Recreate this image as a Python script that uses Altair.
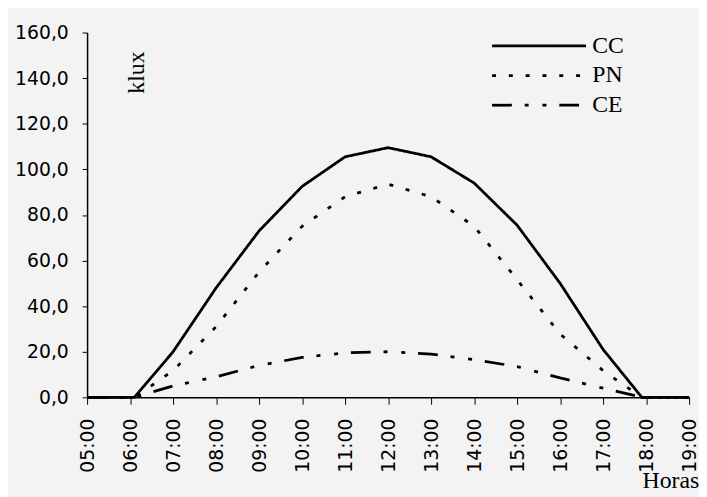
import altair as alt
import pandas as pd

hours = [5, 6, 6.1, 7, 8, 9, 10, 11, 12, 13, 14, 15, 16, 17, 17.9, 18, 19]
cc = [0, 0, 0, 20, 48, 73, 92.5, 105.5, 109.5, 105.5, 94, 75.5, 50, 21, 0, 0, 0]
pn = [0, 0, 0, 11.7, 31, 55, 75, 88, 93.5, 88, 75, 51.6, 27.8, 11.7, 0, 0, 0]
ce = [0, 0, 0, 5, 9, 14, 17.5, 19.5, 20, 19, 16.5, 13.5, 8.5, 4, 0, 0, 0]
series = ["CC", "PN", "CE"]
x_ticks = list(range(5, 20))
y_ticks = list(range(0, 161, 20))

rows = []
for name, vals in zip(series, [cc, pn, ce]):
    for h, v in zip(hours, vals):
        rows.append({"h": h, "v": v, "s": name})
df = pd.DataFrame(rows)

chart = alt.Chart(df).mark_line(color="black", strokeWidth=2.8).encode(
    x=alt.X("h:Q", scale=alt.Scale(domain=[5, 19], nice=False, zero=False),
            axis=alt.Axis(values=x_ticks,
                          labelExpr="(datum.value < 10 ? '0' : '') + datum.value + ':00'",
                          labelAngle=270, labelFont="DejaVu Sans", labelFontSize=19,
                          labelColor="black", labelPadding=14, tickSize=7,
                          tickColor="black", domainColor="black", domainWidth=1.5,
                          grid=False, title="Horas", titleFont="Liberation Serif",
                          titleFontSize=24, titleFontWeight="normal", titleColor="black",
                          titleX=590, titleY=91, titleAlign="center",
                          titleBaseline="alphabetic", labelFlush=False, labelOverlap=False)),
    y=alt.Y("v:Q", scale=alt.Scale(domain=[0, 160], nice=False),
            axis=alt.Axis(values=y_ticks,
                          labelExpr="replace(format(datum.value, '.1f'), '.', ',')",
                          labelFont="DejaVu Sans", labelFontSize=19, labelColor="black",
                          labelPadding=14, tickSize=5, tickColor="black",
                          domainColor="black", domainWidth=1.5, grid=False,
                          title="klux", titleFont="Liberation Serif", titleFontSize=24,
                          titleFontWeight="normal", titleColor="black", titleAngle=270,
                          titleX=50, titleY=40, titleAlign="center",
                          titleBaseline="middle", labelFlush=False)),
    strokeDash=alt.StrokeDash("s:N",
                              scale=alt.Scale(domain=series,
                                              range=[[1, 0], [4, 13], [20, 13, 4, 14, 4, 13]]),
                              legend=alt.Legend(orient="none", legendX=408, legendY=-4,
                                                title=None, symbolType="M-1,0H5",
                                                symbolSize=1003, symbolStrokeWidth=2.8,
                                                symbolStrokeColor="black",
                                                symbolFillColor="transparent",
                                                labelFont="Liberation Serif",
                                                labelFontSize=24, labelColor="black",
                                                labelOffset=68, rowPadding=0, padding=0)),
    detail="s:N",
).properties(
    width=609, height=369,
    padding={"left": 80, "top": 22, "right": 10, "bottom": 98},
    autosize=alt.AutoSizeParams(type="none"),
).configure(background="#f3f3f3").configure_view(stroke=None)

chart.save("out.html", embed_options={"renderer": "svg", "actions": False})
